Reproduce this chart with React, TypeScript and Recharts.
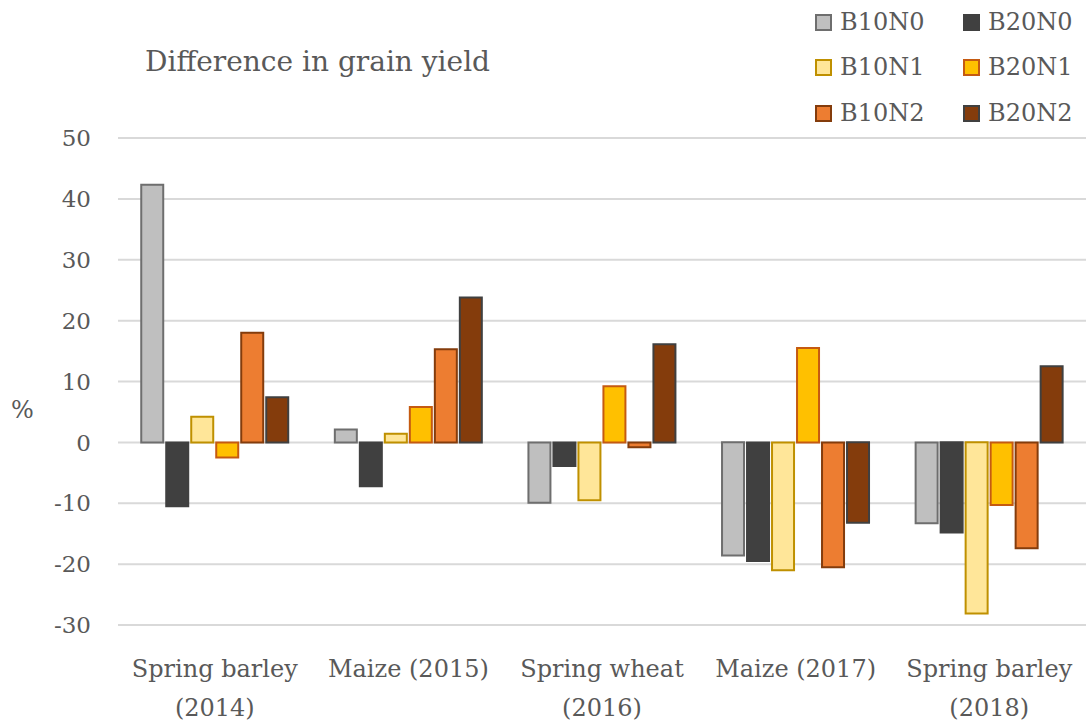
import React from "react";
import { BarChart, Bar, XAxis, YAxis, CartesianGrid } from "recharts";

const categories = [
  "Spring barley\n(2014)",
  "Maize (2015)",
  "Spring wheat\n(2016)",
  "Maize (2017)",
  "Spring barley\n(2018)",
];
const B10N0 = [42.3, 2.1, -9.9, -18.6, -13.3];
const B20N0 = [-10.5, -7.2, -3.9, -19.5, -14.8];
const B10N1 = [4.2, 1.4, -9.5, -21.0, -28.1];
const B20N1 = [-2.5, 5.8, 9.2, 15.5, -10.3];
const B10N2 = [18.0, 15.3, -0.8, -20.5, -17.4];
const B20N2 = [7.4, 23.8, 16.1, -13.2, 12.5];
const yTicks = [-30, -20, -10, 0, 10, 20, 30, 40, 50];

const seriesNames = ["B10N0", "B20N0", "B10N1", "B20N1", "B10N2", "B20N2"];
const seriesValues = [B10N0, B20N0, B10N1, B20N1, B10N2, B20N2];
const fills = ["#BFBFBF", "#404040", "#FFE699", "#FFC000", "#ED7D31", "#843C0C"];
const strokes = ["#6E6E6E", "#404040", "#BF9000", "#C55A11", "#843C0C", "#404040"];

const data = categories.map((c, i) => {
  const row: Record<string, string | number> = { name: c };
  seriesNames.forEach((s, k) => {
    row[s] = seriesValues[k][i];
  });
  return row;
});

const FONT = "'DejaVu Serif', serif";
const TEXT = "#595959";

const CategoryTick = (props: any) => {
  const { x, y, payload } = props;
  const lines = String(payload.value).split("\n");
  return (
    <text x={x} y={y} textAnchor="middle" fill={TEXT} fontFamily={FONT} fontSize={24}>
      {lines.map((l, i) => (
        <tspan key={i} x={x} dy={i === 0 ? 50 : 39}>
          {l}
        </tspan>
      ))}
    </text>
  );
};

// legend order: rows of two (col1: B10.., col2: B20..)
const legendRows = [
  ["B10N0", "B20N0"],
  ["B10N1", "B20N1"],
  ["B10N2", "B20N2"],
];
const legendRowY = [22, 67, 113];
const legendColX = [815, 963];

export default function App() {
  return (
    <div style={{ position: "absolute", left: 0, top: 0, width: 1086, height: 725, background: "#fff" }}>
      <BarChart
        width={1086}
        height={725}
        data={data}
        margin={{ top: 138, right: 0, bottom: 0, left: 0 }}
        barCategoryGap="12%"
        barGap={3}
      >
        <CartesianGrid vertical={false} stroke="#D9D9D9" strokeWidth={2} />
        <XAxis
          dataKey="name"
          height={100}
          axisLine={false}
          tickLine={false}
          tickSize={0}
          interval={0}
          tick={<CategoryTick />}
        />
        <YAxis
          width={118}
          domain={[-30, 50]}
          ticks={yTicks}
          axisLine={false}
          tickLine={false}
          tickSize={0}
          tickMargin={27}
          tick={{ fill: TEXT, fontFamily: FONT, fontSize: 23 }}
        />
        {seriesNames.map((s, k) => (
          <Bar
            key={s}
            dataKey={s}
            fill={fills[k]}
            stroke={strokes[k]}
            strokeWidth={2}
            isAnimationActive={false}
          />
        ))}
      </BarChart>
      <div
        style={{
          position: "absolute",
          left: 145,
          top: 46,
          fontFamily: FONT,
          fontSize: 28,
          lineHeight: "32px",
          color: TEXT,
          whiteSpace: "nowrap",
        }}
      >
        Difference in grain yield
      </div>
      <div
        style={{
          position: "absolute",
          left: 11,
          top: 396,
          fontFamily: FONT,
          fontSize: 24,
          lineHeight: "28px",
          color: TEXT,
        }}
      >
        %
      </div>
      {legendRows.map((row, r) =>
        row.map((name, c) => {
          const k = seriesNames.indexOf(name);
          return (
            <div
              key={name}
              style={{
                position: "absolute",
                left: legendColX[c],
                top: legendRowY[r] - 14,
                height: 28,
                display: "flex",
                alignItems: "center",
                fontFamily: FONT,
                fontSize: 24,
                color: TEXT,
                whiteSpace: "nowrap",
              }}
            >
              <span
                style={{
                  display: "inline-block",
                  width: 17,
                  height: 17,
                  boxSizing: "border-box",
                  background: fills[k],
                  border: `2px solid ${strokes[k]}`,
                  marginRight: 8,
                }}
              />
              {name}
            </div>
          );
        })
      )}
    </div>
  );
}
